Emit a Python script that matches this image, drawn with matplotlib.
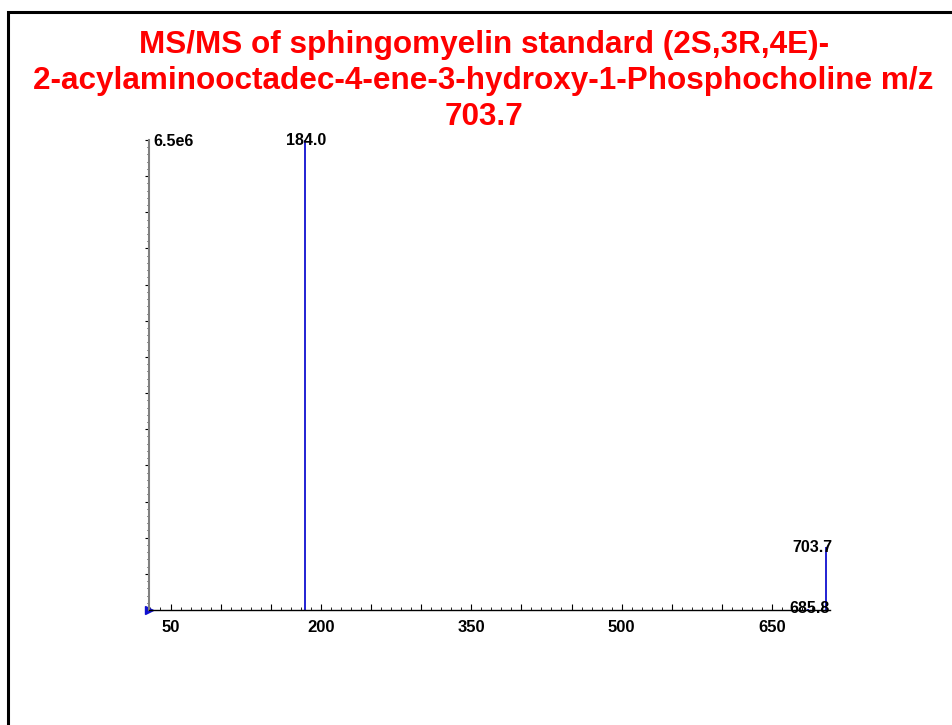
import matplotlib
matplotlib.use("Agg")
import matplotlib.pyplot as plt
from matplotlib.ticker import MultipleLocator, FuncFormatter
from matplotlib.patches import Rectangle

plt.rcParams['font.family'] = ['Liberation Sans', 'DejaVu Sans']

# peak list (m/z, intensity)
mz = [184.0, 685.8, 703.7]
intensity = [6.5e6, 2.0e4, 8.7e5]
peak_labels = ['184.0', '685.8', '703.7']
label_shift = [1, 1.5, -9.4]   # pt, keep labels inside the frame
y_max_label = '6.5e6'

title = ('MS/MS of sphingomyelin standard (2S,3R,4E)-\n'
         '2-acylaminooctadec-4-ene-3-hydroxy-1-Phosphocholine m/z\n'
         '703.7')

fig = plt.figure(figsize=(9.52, 7.25), dpi=100)
ax = fig.add_axes([0.157, 0.1586, 0.7148, 0.6483])

ax.vlines(mz, 0, intensity, color='#1010d0', linewidth=1.3)
ax.plot([29], [0], marker='>', color='#1010d0', markersize=6, clip_on=False)

ax.set_xlim(29, 707.8)
ax.set_ylim(0, 6.5e6)

for x, y, lab, dx in zip(mz, intensity, peak_labels, label_shift):
    ax.annotate(lab, (x, y), xytext=(dx, -3.5), textcoords='offset points',
                ha='center', va='baseline', fontsize=11.5, fontweight='bold')

ax.text(0.006, 1.0 - 2 / 470, y_max_label, transform=ax.transAxes,
        ha='left', va='center', fontsize=11.5, fontweight='bold')

for s in ['top', 'right']:
    ax.spines[s].set_visible(False)
ax.spines['left'].set_color('#808080')
ax.spines['left'].set_linewidth(1.5)
ax.spines['bottom'].set_linewidth(1.0)

ax.xaxis.set_major_locator(MultipleLocator(50))
ax.xaxis.set_minor_locator(MultipleLocator(10))
ax.xaxis.set_major_formatter(FuncFormatter(
    lambda v, p: f'{v:.0f}' if (v - 50) % 150 == 0 else ''))
ax.tick_params(axis='x', which='major', direction='in', length=4, width=0.8,
               labelsize=12, pad=7)
ax.tick_params(axis='x', which='minor', direction='in', length=2, width=0.6)
for lab in ax.get_xticklabels():
    lab.set_fontweight('bold')

ax.yaxis.set_major_locator(MultipleLocator(5e5))
ax.yaxis.set_minor_locator(MultipleLocator(1e5))
ax.yaxis.set_major_formatter(FuncFormatter(lambda v, p: ''))
ax.tick_params(axis='y', which='major', direction='out', length=3, width=0.8)
ax.tick_params(axis='y', which='minor', direction='out', length=1.5, width=0.6)

fig.text(0.508, 0.888, title, ha='center', va='center', color='#ff0000',
         fontsize=22.7, fontweight='bold', linespacing=1.26)

# outer frame (runs off the right and bottom edges)
fig.patches.append(Rectangle((8 / 952, -0.1), 1.2, 1.1 - 12.5 / 725,
                             transform=fig.transFigure, fill=False,
                             edgecolor='black', linewidth=2.2))

fig.savefig('out.png', dpi=100)
